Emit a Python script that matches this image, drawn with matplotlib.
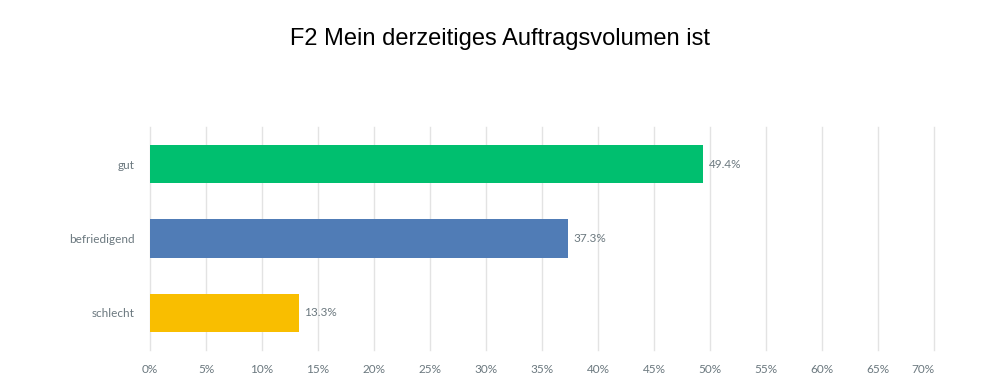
import matplotlib.pyplot as plt
from matplotlib.ticker import FuncFormatter

# data
categories = ["gut", "befriedigend", "schlecht"]
values = [49.4, 37.3, 13.3]
colors = ["#00BF6F", "#507CB6", "#F9BE00"]
ticks = list(range(0, 75, 5))

TXT = "#6B787F"
GRID = "#E3E3E3"
FONT = "Lato"

fig = plt.figure(figsize=(10, 3.87), dpi=100)
ax = fig.add_axes([0.15, 1 - 350 / 387, 0.934 - 0.15, (350 - 127) / 387])

y = list(range(len(categories)))
ax.barh(y, values, height=0.52, color=colors, zorder=3)

for yi, v in zip(y, values):
    ax.annotate(f"{v:.1f}%", (v, yi), xytext=(4, 0), textcoords="offset points",
                va="center", ha="left", fontsize=8.5, color=TXT, family=FONT)

ax.set_xlim(0, 70)
ax.set_ylim(2.5, -0.5)
ax.set_xticks(ticks)
ax.xaxis.set_major_formatter(FuncFormatter(lambda v, p: f"{v:.0f}%"))
ax.set_yticks(y)
ax.set_yticklabels(categories)

ax.grid(axis="x", color=GRID, linewidth=1, zorder=0)
for gl in ax.get_xgridlines():
    gl.set_clip_on(False)
for s in ax.spines.values():
    s.set_visible(False)
ax.tick_params(axis="both", length=0, labelsize=8.5, labelcolor=TXT)
ax.tick_params(axis="x", pad=10)
ax.tick_params(axis="y", pad=11)
for lab in ax.get_xticklabels() + ax.get_yticklabels():
    lab.set_family(FONT)
# last tick label sits inside the plot edge
ax.get_xticklabels()[-1].set_horizontalalignment("right")

fig.text(0.5, 1 - 39 / 387, "F2 Mein derzeitiges Auftragsvolumen ist",
         ha="center", va="center", fontsize=17, family="Liberation Sans", color="black")

fig.savefig("out.png", dpi=100)
